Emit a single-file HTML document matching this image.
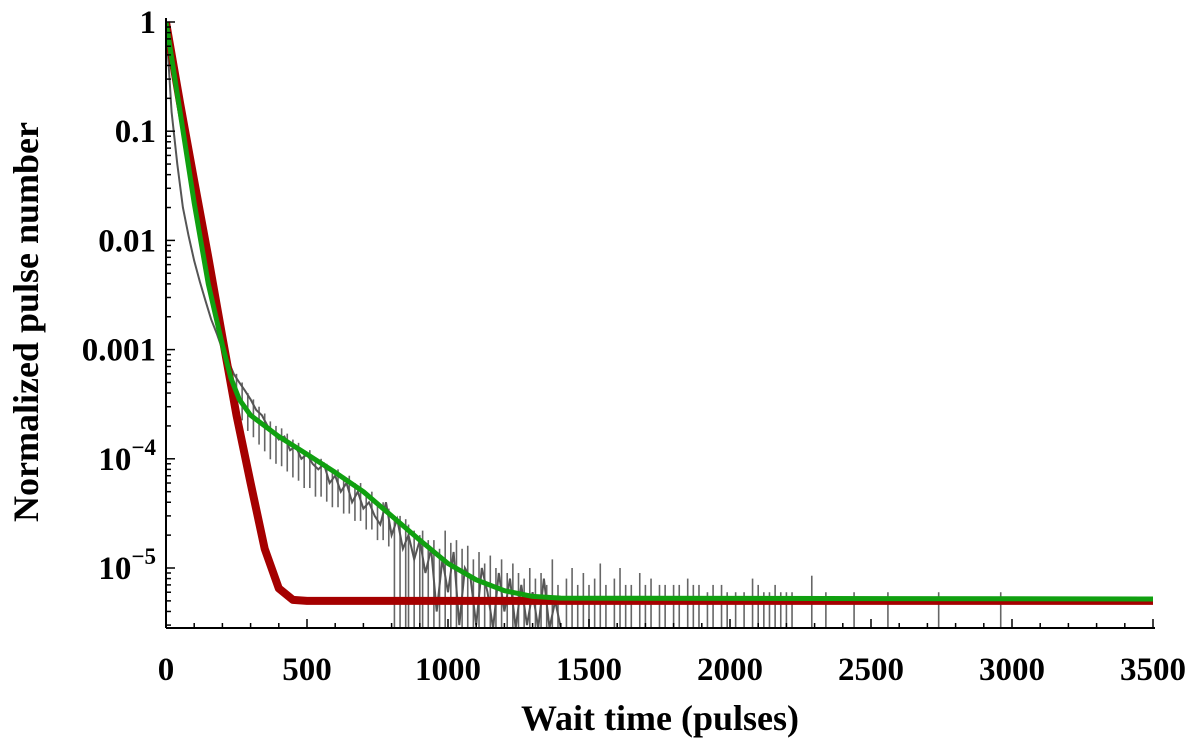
<!DOCTYPE html>
<html><head><meta charset="utf-8"><style>
html,body{margin:0;padding:0;background:#fff;}
svg{display:block;font-family:"Liberation Serif",serif;font-weight:bold;}
</style></head><body>
<svg id="chart" width="1200" height="751"></svg>
<script>
const xTicks=[0,500,1000,1500,2000,2500,3000,3500];
const yTicks=[0,-1,-2,-3,-4,-5];
const yTickLabels=["1","0.1","0.01","0.001","10^-4","10^-5"];
const grayX=[0,20,40,60,80,100,120,140,160,180,200,220,240,260,280,300,320,340,360,380,400,420,440,460,480,500,520,540,560,580,600,620,640,660,680,700,720,740,760,780,800,820,840,860,880,900,920,940,960,980,1000,1020,1040,1060,1080,1100,1120,1140,1160,1180,1200,1220,1240,1260,1280,1300,1320,1340,1360,1380,1400];
const grayY=[1,0.15,0.05,0.02,0.011,0.0065,0.0042,0.0028,0.0019,0.0014,0.001,0.0008,0.0006,0.0005,0.00042,0.00035,0.00028,0.00025,0.0002,0.00018,0.00015,0.00016,0.00012,0.00013,0.0001,0.00011,0.00009,0.00008,0.00009,0.00006,0.00007,0.00005,0.00006,0.00004,0.00005,0.000035,0.00004,0.00003,0.000025,0.00004,0.00002,0.000028,0.000015,0.00002,0.000012,0.000018,0.000009,0.000015,0.000004,0.000012,0.000006,0.000014,0.000003,0.00001,0.000008,0.000003,0.00001,0.000006,0.000002,0.000009,0.000004,0.000008,0.000002,0.000007,0.000003,0.000006,0.000002,0.000008,0.000002,0.000005,0.000002];
const spikeX=[250,270,290,310,330,350,370,390,410,430,450,470,490,510,530,550,570,590,610,630,650,670,690,710,730,750,770,790,810,830,850,860,880,900,910,930,950,970,990,1010,1030,1050,1070,1090,1110,1130,1150,1170,1190,1210,1230,1250,1270,1290,1310,1330,1350,1370,1390,1420,1440,1460,1480,1500,1520,1540,1560,1590,1610,1630,1650,1680,1700,1720,1750,1770,1800,1820,1850,1870,1890,1920,1940,1970,1990,2020,2050,2080,2100,2120,2140,2160,2180,2200,2220,2290,2340,2440,2560,2740,2960];
const spikeY=[0.0006,0.0005,0.0004,0.00035,0.0003,0.00026,0.00022,0.0002,0.00019,0.00017,0.00015,0.00014,0.00012,0.00012,0.0001,0.0001,0.00009,0.00008,0.00008,0.00007,0.00007,0.00006,0.00006,0.00005,0.00005,0.00004,0.00004,0.000035,0.00003,0.00003,0.000028,0.000025,0.000022,0.00002,0.000022,0.000018,0.000018,0.000015,0.000022,0.000017,0.000018,0.000015,0.000016,0.000012,0.000014,0.000011,0.000013,0.00001,0.000012,0.000009,0.000011,0.000009,0.000008,0.00001,0.000008,0.000009,0.000007,0.000012,0.000007,0.000008,0.00001,0.000007,0.000009,0.000007,0.000008,0.000011,0.000007,0.000008,0.00001,0.000007,0.000007,0.000009,0.000007,0.000008,0.000007,0.000007,0.000007,0.000007,0.000008,0.000007,0.000007,0.000006,0.000007,0.000007,0.000006,0.000006,0.000006,0.000008,0.000007,0.000006,0.000006,0.000007,0.000006,0.000006,0.000006,0.0000085,0.000006,0.000006,0.000006,0.000006,0.000006];
const redX=[0,50,100,150,200,250,300,350,400,450,500,3500];
const redY=[1,0.18,0.035,0.007,0.0013,0.00025,0.00006,0.000015,0.0000065,0.0000051,0.000005,0.000005];
const greenX=[0,50,100,150,200,230,260,300,350,400,500,600,700,800,900,1000,1100,1200,1300,1400,3500];
const greenY=[1,0.15,0.022,0.004,0.0011,0.00055,0.00035,0.00025,0.0002,0.00016,0.00011,0.000075,0.00005,0.00003,0.000018,0.000011,0.0000078,0.0000062,0.0000055,0.0000053,0.0000052];

const NS="http://www.w3.org/2000/svg";
const svg=document.getElementById('chart');
const X0=166,X1=1153,YTOP=22,DEC=109.2,YB=628;
const sx=v=>X0+(X1-X0)*v/3500;
const sy=v=>Math.min(YB,YTOP-Math.log10(v)*DEC);
function mk(t,a,p){const e=document.createElementNS(NS,t);for(const k in a)e.setAttribute(k,a[k]);(p||svg).appendChild(e);return e;}
const cp=mk('clipPath',{id:'clip'});
mk('rect',{x:X0,y:0,width:X1-X0+2,height:YB},cp);
const plot=mk('g',{'clip-path':'url(#clip)'});



spikeX.forEach((x,i)=>{
  const s=mk('line',{x1:sx(x),x2:sx(x),y1:(x>800?YB:sy(spikeY[i]*0.45)),y2:sy(spikeY[i]),stroke:'#666',"stroke-width":1.6},plot);
  
  
});
let d='';
grayX.forEach((x,i)=>{d+=(i?'L':'M')+sx(x).toFixed(1)+','+sy(grayY[i]).toFixed(1);});
const gp=mk('path',{d:d,fill:'none',stroke:'#555',"stroke-width":2},plot);


function line(xs,ys,col,w,name){
  let p='';xs.forEach((x,i)=>{p+=(i?'L':'M')+sx(x).toFixed(1)+','+sy(ys[i]).toFixed(1);});
  const e=mk('path',{d:p,fill:'none',stroke:col,"stroke-width":w,"stroke-linejoin":"round"},plot);
  
  
}
line(redX,redY,'#a50000',8,'red-fit-curve');
line(greenX,greenY,'#10a010',5,'green-fit-curve');

const ax=mk('g',{stroke:'#000',"stroke-width":2});


mk('line',{x1:X0,x2:X1+2,y1:YB,y2:YB},ax);
mk('line',{x1:X0,x2:X0,y1:YB,y2:YTOP-4},ax);
for(let v=0;v<=3500;v+=100){const big=v%500===0;mk('line',{x1:sx(v),x2:sx(v),y1:YB,y2:YB-(big?9:5),"stroke-width":1.5},ax);}
for(let dd=0;dd>=-6;dd--){for(let m=1;m<=9;m++){const v=m*Math.pow(10,dd);const y=YTOP-Math.log10(v)*DEC;if(y>YB||y<YTOP-1)continue;mk('line',{x1:X0,x2:X0+(m===1?9:5),y1:y,y2:y,"stroke-width":1.5},ax);}}
xTicks.forEach(v=>{
  const t=mk('text',{x:sx(v),y:680,"text-anchor":"middle","font-size":33});t.textContent=v;
  
  
});
yTicks.forEach((e,i)=>{
  const t=mk('text',{x:156,y:YTOP-e*DEC+11,"text-anchor":"end","font-size":33});
  const lab=yTickLabels[i];
  if(lab.indexOf('^')>0){const [b,ex]=lab.split('^');t.textContent=b;const ts=mk('tspan',{"font-size":23,dy:-15},t);ts.textContent=ex.replace('-','\u2212');}
  else t.textContent=lab;
  
  
});
const xl=mk('text',{x:660,y:730,"text-anchor":"middle","font-size":36});xl.textContent='Wait time (pulses)';


const yl=mk('text',{x:0,y:0,"text-anchor":"middle","font-size":36,transform:'translate(38,322) rotate(-90)'});yl.textContent='Normalized pulse number';


</script>
</body></html>
